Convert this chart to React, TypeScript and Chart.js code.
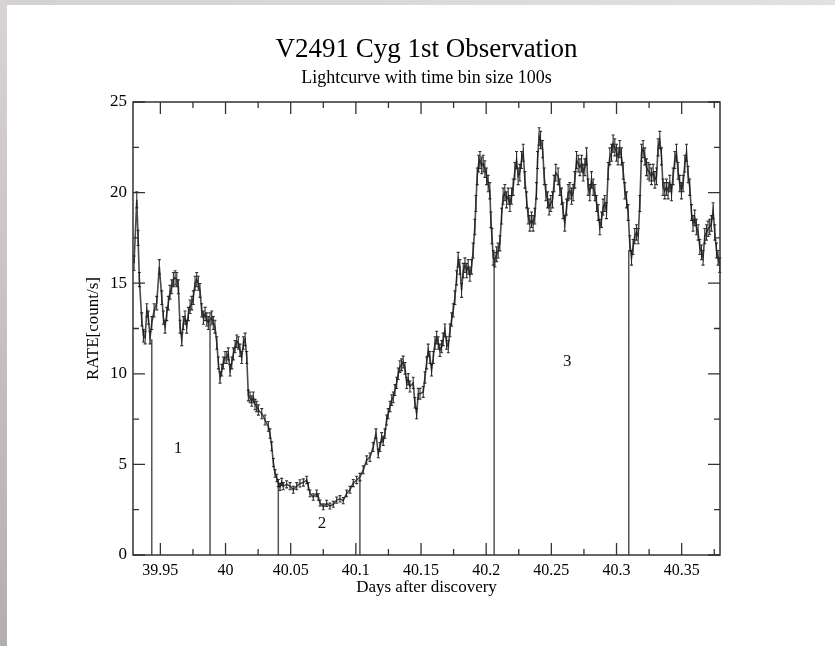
import React, { useEffect, useRef } from 'react';
import { Chart, registerables } from 'chart.js';

Chart.register(...registerables);

// Days after discovery (bin centres) and count rate (count/s)
const TIME = [
  39.9298, 39.9319, 39.9329, 39.9339, 39.9357, 39.9370, 39.9383, 39.9396, 39.9408, 39.9421,
  39.9434, 39.9452, 39.9472, 39.9492, 39.9511, 39.9523, 39.9536, 39.9549, 39.9561, 39.9574,
  39.9587, 39.9600, 39.9613, 39.9626, 39.9638, 39.9651, 39.9664, 39.9676, 39.9689, 39.9702,
  39.9715, 39.9728, 39.9741, 39.9753, 39.9766, 39.9779, 39.9791, 39.9804, 39.9817, 39.9830,
  39.9843, 39.9856, 39.9868, 39.9881, 39.9894, 39.9906, 39.9919, 39.9933, 39.9945, 39.9958,
  39.9971, 39.9983, 39.9996, 40.0009, 40.0021, 40.0035, 40.0048, 40.0060, 40.0073, 40.0086,
  40.0098, 40.0111, 40.0124, 40.0137, 40.0150, 40.0163, 40.0175, 40.0188, 40.0201, 40.0213,
  40.0226, 40.0239, 40.0252,
  40.0278, 40.0303, 40.0328, 40.0341, 40.0354, 40.0367, 40.0380, 40.0393, 40.0405, 40.0418,
  40.0431, 40.0443, 40.0469, 40.0495, 40.0520, 40.0546, 40.0571, 40.0597, 40.0623, 40.0635,
  40.0648, 40.0673, 40.0699, 40.0712, 40.0725, 40.0750, 40.0776, 40.0801, 40.0827, 40.0853,
  40.0878, 40.0903, 40.0929, 40.0955, 40.0980, 40.1006, 40.1031, 40.1057, 40.1083, 40.1108,
  40.1133, 40.1154, 40.1172, 40.1185, 40.1198, 40.1210, 40.1223, 40.1236, 40.1248, 40.1262,
  40.1275, 40.1287, 40.1300, 40.1313, 40.1325, 40.1338, 40.1351, 40.1363, 40.1377, 40.1390,
  40.1402, 40.1415, 40.1440, 40.1453, 40.1466, 40.1479,
  40.1492, 40.1517, 40.1530, 40.1543, 40.1555, 40.1568, 40.1581, 40.1594, 40.1607, 40.1620,
  40.1632, 40.1645, 40.1658, 40.1670, 40.1683, 40.1696, 40.1709, 40.1722, 40.1735, 40.1747,
  40.1760, 40.1773, 40.1785, 40.1798, 40.1811, 40.1824, 40.1837, 40.1850, 40.1862, 40.1875,
  40.1888, 40.1900, 40.1913, 40.1921, 40.1931, 40.1942, 40.1952, 40.1965, 40.1977, 40.1990,
  40.2003, 40.2015, 40.2028, 40.2036, 40.2044, 40.2054, 40.2067, 40.2080, 40.2092, 40.2105,
  40.2118, 40.2130, 40.2143, 40.2156, 40.2169, 40.2182, 40.2195, 40.2207, 40.2220, 40.2233,
  40.2245, 40.2258, 40.2271, 40.2284, 40.2297, 40.2310, 40.2322, 40.2335, 40.2348, 40.2360,
  40.2373, 40.2386, 40.2394, 40.2406, 40.2417, 40.2433, 40.2445, 40.2458, 40.2471, 40.2483,
  40.2496, 40.2509, 40.2521, 40.2534, 40.2552,
  40.2565, 40.2578, 40.2590, 40.2603, 40.2617, 40.2629, 40.2642, 40.2655, 40.2667, 40.2680,
  40.2693, 40.2706, 40.2719, 40.2732, 40.2744, 40.2757, 40.2770, 40.2782, 40.2795, 40.2808,
  40.2821, 40.2834, 40.2847, 40.2859, 40.2872, 40.2885, 40.2897, 40.2910, 40.2923, 40.2936,
  40.2949, 40.2962, 40.2974, 40.2987, 40.3000, 40.3012, 40.3025, 40.3038, 40.3051, 40.3064,
  40.3077, 40.3089, 40.3102, 40.3115, 40.3127, 40.3140, 40.3153, 40.3166, 40.3179, 40.3192,
  40.3204, 40.3217, 40.3230, 40.3242, 40.3255, 40.3268, 40.3281, 40.3294, 40.3307, 40.3319,
  40.3332, 40.3345, 40.3357, 40.3370, 40.3383, 40.3396, 40.3409, 40.3422, 40.3434, 40.3447,
  40.3460, 40.3472, 40.3485, 40.3498, 40.3511, 40.3524, 40.3537, 40.3549, 40.3562, 40.3575,
  40.3587, 40.3600, 40.3613, 40.3626, 40.3639, 40.3652, 40.3664, 40.3677, 40.3690, 40.3702,
  40.3715, 40.3728, 40.3741, 40.3754, 40.3767, 40.3779, 40.3792,
];

const RATE = [
  16.1, 19.6, 17.5, 15.2, 13.0, 12.1, 12.0, 13.5, 13.1, 12.0,
  12.8, 13.5, 13.9, 15.9, 14.2, 13.1, 12.6, 13.3, 13.9, 14.5,
  14.8, 15.2, 15.3, 15.2, 14.8, 12.6, 11.9, 12.8, 13.1, 12.6,
  13.3, 13.7, 13.9, 14.2, 15.0, 15.2, 15.0, 14.6, 13.5, 13.1,
  13.3, 13.0, 12.8, 13.0, 13.1, 12.8, 12.6, 11.7, 10.6, 9.8,
  10.2, 10.6, 10.9, 10.9, 11.1, 10.2, 10.6, 11.1, 11.5, 11.8,
  11.7, 11.3, 10.9, 11.7, 11.9, 10.9, 8.8, 8.7, 8.5, 8.7,
  8.3, 8.2, 8.0,
  7.8, 7.45, 7.1, 6.7, 6.0, 5.1, 4.5, 4.25, 3.97, 3.76,
  4.03, 3.8, 3.9, 3.8, 3.6, 3.8, 3.95, 4.0, 4.14, 3.8,
  3.4, 3.2, 3.4, 3.2, 2.87, 2.66, 2.85, 2.7, 2.8, 3.03,
  3.1, 3.0, 3.4, 3.6, 3.97, 4.14, 4.3, 4.7, 5.24, 5.4,
  5.96, 6.7, 5.6, 5.96, 6.5, 6.3, 6.7, 7.45, 7.8, 8.2,
  8.55, 8.7, 9.1, 9.5, 10.0, 10.4, 10.5, 10.65, 10.3, 9.5,
  9.7, 9.3, 9.5, 8.4, 7.8, 8.9,
  8.9, 9.0, 9.8, 10.6, 11.3, 10.9, 10.2, 10.9, 11.7, 12.0,
  11.7, 11.3, 11.5, 11.9, 12.4, 11.7, 11.5, 12.4, 13.0, 13.5,
  14.2, 15.3, 16.3, 15.9, 14.6, 15.7, 16.0, 15.7, 15.9, 15.5,
  15.9, 16.8, 18.1, 19.4, 20.9, 21.6, 21.8, 21.5, 21.6, 21.3,
  20.9, 20.5, 20.1, 18.5, 17.6, 16.4, 16.3, 16.6, 16.8, 17.2,
  18.7, 19.8, 20.0, 19.6, 19.8, 19.4, 19.8, 20.3, 21.2, 21.8,
  20.9, 21.1, 21.8, 22.2, 20.7, 19.6, 18.7, 18.3, 18.5, 18.3,
  18.7, 20.1, 21.8, 23.1, 22.9, 22.4, 20.9, 20.0, 19.6, 19.2,
  19.4, 19.6, 20.5, 21.1, 20.9,
  20.3, 19.8, 19.0, 18.3, 19.2, 20.0, 20.1, 19.8, 20.0, 20.7,
  21.8, 21.6, 21.4, 21.6, 21.1, 21.4, 22.0, 20.3, 20.0, 20.7,
  20.3, 20.0, 19.4, 18.9, 18.1, 18.5, 19.2, 19.4, 19.0, 21.2,
  22.0, 22.2, 22.7, 22.5, 22.2, 22.0, 22.4, 22.0, 21.2, 20.1,
  19.6, 18.9, 17.2, 16.4, 17.0, 17.6, 17.8, 17.6, 19.4, 22.2,
  22.4, 22.0, 21.4, 21.2, 21.1, 20.9, 21.1, 20.7, 20.9, 22.5,
  22.9, 22.0, 20.3, 20.1, 20.3, 20.1, 20.5, 20.0, 20.9, 21.8,
  22.2, 21.2, 20.5, 20.1, 20.5, 21.6, 22.2, 21.0, 20.3, 18.9,
  18.3, 18.6, 18.1, 17.8, 17.0, 16.7, 16.4, 17.6, 17.8, 18.0,
  18.1, 18.3, 19.0, 17.8, 16.8, 16.4, 16.0,
];

// time bin size in seconds (error bars are Poisson: sqrt(N)/bin)
const BIN_SECONDS = 100;

// interval boundaries (vertical lines) and the rate they reach
const MARKER_TIME = [39.9434, 39.9881, 40.0405, 40.1031, 40.2061, 40.3094];
const MARKER_TOP = [11.9, 12.6, 4.0, 4.2, 16.3, 16.8];

// interval labels
const REGION_NAME = ['1', '2', '3'];
const REGION_TIME = [39.9636, 40.074, 40.2622];
const REGION_RATE = [5.85, 1.71, 10.65];

// axes
const X_MIN = 39.929;
const X_MAX = 40.3794;
const X_TICKS = [39.95, 40, 40.05, 40.1, 40.15, 40.2, 40.25, 40.3, 40.35];
const X_TICK_LABELS = ['39.95', '40', '40.05', '40.1', '40.15', '40.2', '40.25', '40.3', '40.35'];
const X_MINOR = [39.975, 40.025, 40.075, 40.125, 40.175, 40.225, 40.275, 40.325, 40.375];
const Y_TICKS = [0, 5, 10, 15, 20, 25];
const Y_MINOR = [2.5, 7.5, 12.5, 17.5, 22.5];

const FONT = "'Liberation Serif', 'Times New Roman', Times, serif";

const decorPlugin = {
  id: 'decor',
  afterDatasetsDraw(chart: any) {
    const { ctx, chartArea, scales } = chart;
    const { left, right, top, bottom } = chartArea;
    const xs = scales.x;
    const ys = scales.y;
    ctx.save();
    // error bars
    ctx.strokeStyle = 'rgba(25,25,25,0.9)';
    ctx.lineWidth = 1.1;
    ctx.beginPath();
    TIME.forEach((t, i) => {
      const r = RATE[i];
      const e = Math.sqrt(r * BIN_SECONDS) / BIN_SECONDS;
      const px = xs.getPixelForValue(t);
      const y1 = ys.getPixelForValue(r + e);
      const y2 = ys.getPixelForValue(r - e);
      ctx.moveTo(px, y1);
      ctx.lineTo(px, y2);
      ctx.moveTo(px - 1.5, y1);
      ctx.lineTo(px + 1.5, y1);
      ctx.moveTo(px - 1.5, y2);
      ctx.lineTo(px + 1.5, y2);
    });
    ctx.stroke();

    // frame
    ctx.strokeStyle = '#333';
    ctx.lineWidth = 1.5;
    ctx.strokeRect(left, top, right - left, bottom - top);

    // inward ticks on all four sides
    ctx.lineWidth = 1.3;
    ctx.beginPath();
    const vt = (v: number, len: number) => {
      const px = xs.getPixelForValue(v);
      ctx.moveTo(px, bottom);
      ctx.lineTo(px, bottom - len);
      ctx.moveTo(px, top);
      ctx.lineTo(px, top + len);
    };
    const ht = (v: number, len: number) => {
      const py = ys.getPixelForValue(v);
      ctx.moveTo(left, py);
      ctx.lineTo(left + len, py);
      ctx.moveTo(right, py);
      ctx.lineTo(right - len, py);
    };
    X_TICKS.forEach((v) => vt(v, 12));
    X_MINOR.forEach((v) => vt(v, 6));
    Y_TICKS.forEach((v) => ht(v, 12));
    Y_MINOR.forEach((v) => ht(v, 6));
    ctx.stroke();

    // region labels
    ctx.fillStyle = '#111';
    ctx.font = `17px ${FONT}`;
    ctx.textAlign = 'center';
    ctx.textBaseline = 'middle';
    REGION_NAME.forEach((n, i) => {
      ctx.fillText(n, xs.getPixelForValue(REGION_TIME[i]), ys.getPixelForValue(REGION_RATE[i]));
    });
    ctx.restore();
  },
};

export default function App() {
  const canvasRef = useRef<HTMLCanvasElement | null>(null);

  useEffect(() => {
    const canvas = canvasRef.current;
    if (!canvas) return;
    const curve = TIME.map((t, i) => ({ x: t, y: RATE[i] }));
    const markers: any[] = [];
    MARKER_TIME.forEach((t, i) => {
      markers.push({ x: t, y: 0 }, { x: t, y: MARKER_TOP[i] }, { x: t, y: null });
    });

    const chart = new Chart(canvas, {
      type: 'line',
      data: {
        datasets: [
          {
            label: 'rate',
            data: curve,
            borderColor: '#4a4a4a',
            borderWidth: 1.6,
            pointRadius: 0,
            tension: 0,
            fill: false,
            order: 1,
          },
          {
            label: 'intervals',
            data: markers,
            borderColor: '#555',
            borderWidth: 1.5,
            pointRadius: 0,
            spanGaps: false,
            fill: false,
            order: 2,
          },
        ],
      },
      options: {
        responsive: false,
        animation: false,
        events: [],
        layout: { padding: { left: 0, right: 115, top: 0, bottom: 0 } },
        plugins: {
          legend: { display: false },
          tooltip: { enabled: false },
          title: {
            display: true,
            fullSize: false,
            text: 'V2491 Cyg 1st Observation',
            color: '#000',
            font: { family: FONT, size: 27, weight: 'normal', lineHeight: 1.2 },
            padding: { top: 34, bottom: 0 },
          },
          subtitle: {
            display: true,
            fullSize: false,
            text: 'Lightcurve with time bin size 100s',
            color: '#000',
            font: { family: FONT, size: 18, weight: 'normal', lineHeight: 1.2 },
            padding: { top: 1, bottom: 13 },
          },
        },
        scales: {
          x: {
            type: 'linear',
            min: X_MIN,
            max: X_MAX,
            grid: { display: false, drawTicks: false },
            border: { display: false },
            afterBuildTicks: (scale: any) => {
              scale.ticks = X_TICKS.map((v) => ({ value: v }));
            },
            afterFit: (scale: any) => {
              scale.height = 91;
            },
            ticks: {
              padding: 6,
              color: '#000',
              maxRotation: 0,
              autoSkip: false,
              font: { family: FONT, size: 16 },
              callback: (_v: any, i: number) => X_TICK_LABELS[i],
            },
            title: {
              display: true,
              text: 'Days after discovery',
              color: '#000',
              font: { family: FONT, size: 17, lineHeight: 1.2 },
              padding: { top: 0, bottom: 48 },
            },
          },
          y: {
            type: 'linear',
            min: 0,
            max: 25,
            grid: { display: false, drawTicks: false },
            border: { display: false },
            afterBuildTicks: (scale: any) => {
              scale.ticks = Y_TICKS.map((v) => ({ value: v }));
            },
            afterFit: (scale: any) => {
              scale.width = 133;
            },
            ticks: {
              padding: 6,
              color: '#000',
              font: { family: FONT, size: 17 },
            },
            title: {
              display: true,
              text: 'RATE[count/s]',
              color: '#000',
              font: { family: FONT, size: 17, lineHeight: 1.2 },
              padding: { top: 83, bottom: 0 },
            },
          },
        },
      },
      plugins: [decorPlugin],
    });
    return () => chart.destroy();
  }, []);

  return (
    <div
      style={{
        position: 'fixed',
        left: 0,
        top: 0,
        width: 835,
        height: 646,
        background: '#ffffff',
        overflow: 'hidden',
      }}
    >
      <div
        style={{
          position: 'absolute',
          left: 0,
          top: 0,
          width: 835,
          height: 5,
          background: 'linear-gradient(to right, #d6d1d2, #e2e0e0)',
        }}
      />
      <div
        style={{
          position: 'absolute',
          left: 0,
          top: 0,
          width: 7,
          height: 646,
          background: 'linear-gradient(to bottom, #d8d4d4, #b6adaf)',
        }}
      />
      <canvas
        ref={canvasRef}
        width={835}
        height={646}
        style={{ position: 'absolute', left: 0, top: 0, width: 835, height: 646 }}
      />
    </div>
  );
}
